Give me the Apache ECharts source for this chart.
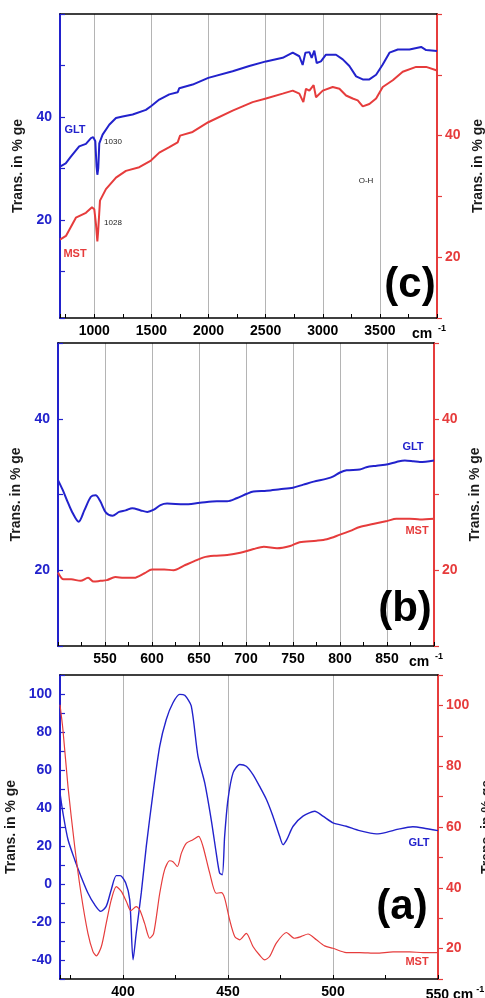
<!DOCTYPE html>
<html><head><meta charset="utf-8">
<script src="https://cdn.jsdelivr.net/npm/echarts@6/dist/echarts.min.js"></script>
<style>html,body{margin:0;padding:0;background:#fff}#c{width:485px;height:998px}</style>
</head><body><div id="c"></div>
<script>
const BLUE = '#2222cc', RED = '#e63c3c';
const FONT = '"Liberation Sans", Arial, Helvetica, sans-serif';

// ---- Panel (c): 700-4000 cm-1 ----
const cGLTx = [700,750,795,868,927,971,991,1009,1020,1027,1035,1044,1073,1131,1190,1248,1336,1452,1496,1569,1657,1730,1744,1861,1998,2211,2357,2503,2649,2737,2795,2824,2848,2883,2903,2926,2947,2984,3028,3116,3175,3233,3292,3350,3408,3467,3525,3584,3657,3759,3861,3905,4000];
const cGLTy = [30.4,31.0,32.3,34.3,34.8,35.9,36.1,35.3,30.4,28.8,30.1,34.9,36.6,38.5,39.8,40.1,40.5,41.4,42.1,43.4,44.4,44.8,45.6,46.3,47.6,48.9,49.9,50.8,51.5,52.5,51.8,50.1,52.5,52.6,51.5,52.9,50.5,50.8,52.1,52.1,51.2,49.9,47.9,47.3,47.3,48.2,50.2,52.5,53.1,53.1,53.6,53.0,52.8];
const cMSTx = [700,752,839,927,980,1000,1015,1027,1034,1050,1102,1190,1277,1394,1496,1569,1657,1730,1751,1861,1998,2211,2386,2503,2649,2737,2795,2830,2853,2883,2920,2941,3000,3087,3146,3204,3262,3306,3350,3408,3467,3525,3613,3700,3817,3905,4000];
const cMSTy = [22.9,23.5,26.5,27.3,28.2,27.9,25.4,22.6,24.3,29.3,31.2,33.1,34.2,34.8,35.9,37.2,38.1,38.9,40.0,40.6,42.2,44.1,45.5,46.1,46.9,47.4,46.9,45.5,47.7,47.4,48.3,46.3,47.4,48.0,47.7,46.6,46.1,45.8,44.8,45.2,46.1,48.0,49.1,50.5,51.3,51.3,50.7];
const cXLabels = [1000,1500,2000,2500,3000,3500];
const cYLeftLabels = [20,40];
const cYRightLabels = [20,40];

// ---- Panel (b): 500-900 cm-1 ----
const bGLTx = [500,505,510,515,522,528,535,540,545,551,558,565,572,579,588,595,602,609,616,634,651,669,680,690,701,708,722,736,750,761,772,786,793,800,807,821,828,839,851,860,869,878,885,900];
const bGLTy = [31.9,30.6,29.1,27.7,26.4,27.9,29.7,29.9,29.1,27.6,27.2,27.7,27.9,28.2,27.9,27.7,28.0,28.6,28.8,28.7,28.9,29.1,29.1,29.5,30.1,30.4,30.5,30.7,30.9,31.3,31.7,32.1,32.4,32.9,33.2,33.3,33.6,33.8,34.0,34.3,34.5,34.4,34.3,34.5];
const bMSTx = [500,506,514,524,532,538,545,552,561,570,581,592,600,613,623,634,645,655,666,680,694,708,719,733,747,757,775,786,800,811,821,835,850,860,874,885,900];
const bMSTy = [19.7,18.8,18.8,18.6,19.0,18.5,18.6,18.7,19.1,19.0,19.0,19.6,20.1,20.1,20.0,20.6,21.2,21.7,21.9,22.0,22.3,22.8,23.1,22.9,23.2,23.7,23.9,24.1,24.7,25.2,25.7,26.1,26.5,26.8,26.8,26.7,26.8];
const bXLabels = [550,600,650,700,750,800,850];
const bYLeftLabels = [20,40];
const bYRightLabels = [20,40];

// ---- Panel (a): 370-550 cm-1 ----
const aGLTx = [370,371.4,373.8,377,380,383.3,386.5,389.4,392,394.4,396.8,398.7,401.3,403.2,404.8,406.3,408.7,411.1,414.3,417.5,420.6,423.8,427,429.4,432.5,435.7,438.9,442,444.4,446,447.3,448.4,450,452.4,455.6,458.7,461.9,465,468.3,471.4,474.6,476.2,478,481,485.7,491.3,495.2,500,506.3,512.7,520.6,525.4,531.7,538,542.9,550];
const aGLTy = [48.0,37.4,23.4,12.8,4.0,-4.7,-10.9,-14.4,-11.8,-3.0,4.4,4.4,0.5,-8.3,-39.9,-25.8,-4.7,19.9,48.0,72.6,86.6,95.4,99.8,99.3,93.7,67.3,53.3,33.9,16.3,5.8,4.9,25.1,44.5,58.5,62.9,62.0,57.6,51.5,44.5,35.7,25.1,20.7,23.4,30.4,35.7,38.3,35.7,32.2,30.4,28.1,26.4,27.2,29.0,30.1,29.5,28.1];
const aMSTx = [370,371.4,373.8,377,380,383.3,385.7,387.3,389.7,392,394.4,396.8,399.2,401.6,403.7,406.3,408,410.3,412.7,414.6,417.5,419.8,422.2,423.8,425.9,427.8,430.2,433.3,436,438.1,441.3,444.4,446.8,448.4,450.8,453.2,455.6,458.7,461.9,465,467.5,469.8,473,477.8,481.7,484.9,488.1,492.1,496,500,506.3,512.7,520.6,528.6,536.5,542.9,550];
const aMSTy = [100.2,92.0,73.3,53.6,38.2,25.0,19.0,17.6,20.7,28.3,36.0,40.4,38.8,35.5,32.5,33.8,32.7,28.3,23.4,25.0,38.2,45.9,48.9,48.6,47.0,51.4,54.7,55.8,56.9,53.6,44.8,38.2,38.4,36.6,29.4,24.0,22.9,25.0,20.7,17.9,16.3,17.4,21.8,25.3,23.4,24.0,24.8,22.9,20.9,20.1,18.7,18.7,18.5,18.9,18.9,18.7,18.7];
const aXLabels = [400,450,500];
const aYLeftLabels = [-40,-20,0,20,40,60,80,100];
const aYRightLabels = [20,40,60,80,100];

const yName = 'Trans. in % ge';

function pairs(xs, ys) { return xs.map((x, i) => [x, ys[i]]); }

const supRich = {
  m: { fontSize: 14, fontWeight: 'bold', fontFamily: FONT, color: '#000' },
  s: { fontSize: 9, fontWeight: 'bold', fontFamily: FONT, color: '#000', verticalAlign: 'top', padding: [0, 0, 12, 3] },
  s2: { fontSize: 9, fontWeight: 'bold', fontFamily: FONT, color: '#000', verticalAlign: 'top', padding: [0, 16, 12, 6] },
  n: { fontSize: 14, fontWeight: 'bold', fontFamily: FONT, color: '#000', padding: [0, 0, 0, 34] }
};

function xTicks(gi, min, max, step, labels, lastFmt) {
  return {
    type: 'value', gridIndex: gi, min, max, minInterval: step, maxInterval: step, position: 'bottom',
    axisLine: { show: true, onZero: false, lineStyle: { color: '#000', width: 1.5 } },
    axisTick: { show: true, inside: true, length: 4, lineStyle: { color: '#000', width: 1 } },
    splitLine: { show: false },
    axisLabel: {
      show: true, color: '#000', fontSize: 14, fontWeight: 'bold', fontFamily: FONT, margin: 6,
      showMinLabel: true, showMaxLabel: true, hideOverlap: false,
      formatter: v => (Math.abs(v - max) < 1e-6 ? lastFmt : (labels.includes(v) ? String(v) : '')),
      rich: supRich
    }
  };
}
function xGridLines(gi, min, max, step) {
  return {
    type: 'value', gridIndex: gi, min, max, minInterval: step, maxInterval: step, position: 'top',
    axisLine: { show: true, onZero: false, lineStyle: { color: '#000', width: 1.5 } },
    axisTick: { show: false }, axisLabel: { show: false },
    splitLine: { show: true, lineStyle: { color: '#b4b4b4', width: 1 } }
  };
}
function yAx(gi, side, min, max, step, color, labels, nameGap, inside) {
  return {
    type: 'value', gridIndex: gi, position: side, min, max, minInterval: step, maxInterval: step,
    name: yName, nameLocation: 'middle', nameRotate: 90, nameGap,
    nameTextStyle: { color: '#1a1a1a', fontSize: 14, fontWeight: 'bold', fontFamily: FONT },
    axisLine: { show: true, onZero: false, lineStyle: { color, width: 2 } },
    axisTick: { show: true, inside, length: 5, lineStyle: { color, width: 1.2 } },
    splitLine: { show: false },
    axisLabel: {
      color, fontSize: 14, fontWeight: 'bold', fontFamily: FONT, margin: 8,
      showMinLabel: true, showMaxLabel: true, hideOverlap: false,
      formatter: v => (labels.some(l => Math.abs(l - v) < 1e-6) ? String(Math.round(v)) : '')
    }
  };
}
function line(xi, yi, data, color, width, smooth) {
  return { type: 'line', xAxisIndex: xi, yAxisIndex: yi, data, symbol: 'none', smooth,
    lineStyle: { color, width }, itemStyle: { color }, silent: true, animation: false };
}
function txt(x, y, text, fill, font) {
  return { type: 'text', x, y, z: 100, silent: true,
    style: { text, fill, font, textAlign: 'center', textVerticalAlign: 'middle', align: 'center', verticalAlign: 'middle' } };
}

const chart = echarts.init(document.getElementById('c'), null, { renderer: 'canvas' });
chart.setOption({
  animation: false,
  backgroundColor: '#fff',
  grid: [
    { left: 60, right: 48, top: 14, height: 304, outerBoundsMode: 'none' },
    { left: 58, right: 51, top: 343, height: 303, outerBoundsMode: 'none' },
    { left: 60, right: 47, top: 675, height: 304, outerBoundsMode: 'none' }
  ],
  xAxis: [
    xTicks(0, 700, 4000, 250, cXLabels, '{m|cm}{s2|-1}'),
    xGridLines(0, 700, 4000, 500),
    xTicks(1, 500, 900, 25, bXLabels, '{m|cm}{s2|-1}'),
    xGridLines(1, 500, 900, 50),
    xTicks(2, 370, 550, 25, aXLabels, '{n|550}{m| cm}{s|-1}'),
    xGridLines(2, 370, 550, 50)
  ],
  yAxis: [
    yAx(0, 'left', 1, 60, 10, BLUE, cYLeftLabels, 28, true),
    yAx(0, 'right', 10, 60, 10, RED, cYRightLabels, 30, false),
    yAx(1, 'left', 10, 50, 10, BLUE, bYLeftLabels, 29, true),
    yAx(1, 'right', 10, 50, 10, RED, bYRightLabels, 29, false),
    yAx(2, 'left', -50, 110, 10, BLUE, aYLeftLabels, 36, true),
    yAx(2, 'right', 10, 110, 10, RED, aYRightLabels, 35, false)
  ],
  series: [
    line(0, 0, pairs(cGLTx, cGLTy), BLUE, 2, false),
    line(0, 1, pairs(cMSTx, cMSTy), RED, 2, false),
    line(2, 2, pairs(bGLTx, bGLTy), BLUE, 2, 0.3),
    line(2, 3, pairs(bMSTx, bMSTy), RED, 2, 0.3),
    line(4, 4, pairs(aGLTx, aGLTy), BLUE, 1.4, 0.25),
    line(4, 5, pairs(aMSTx, aMSTy), RED, 1.2, 0.25)
  ],
  graphic: [
    txt(75, 130, 'GLT', BLUE, 'bold 11px ' + FONT),
    txt(75, 254, 'MST', RED, 'bold 11px ' + FONT),
    txt(113, 142, '1030', '#222', '8px ' + FONT),
    txt(113, 223, '1028', '#222', '8px ' + FONT),
    txt(366, 181, 'O-H', '#222', '8px ' + FONT),
    txt(410, 285, '(c)', '#000', 'bold 42px ' + FONT),
    txt(413, 447, 'GLT', BLUE, 'bold 11px ' + FONT),
    txt(417, 531, 'MST', RED, 'bold 11px ' + FONT),
    txt(405, 609, '(b)', '#000', 'bold 42px ' + FONT),
    txt(419, 843, 'GLT', BLUE, 'bold 11px ' + FONT),
    txt(417, 962, 'MST', RED, 'bold 11px ' + FONT),
    txt(402, 907, '(a)', '#000', 'bold 42px ' + FONT)
  ]
});
</script>
</body></html>
